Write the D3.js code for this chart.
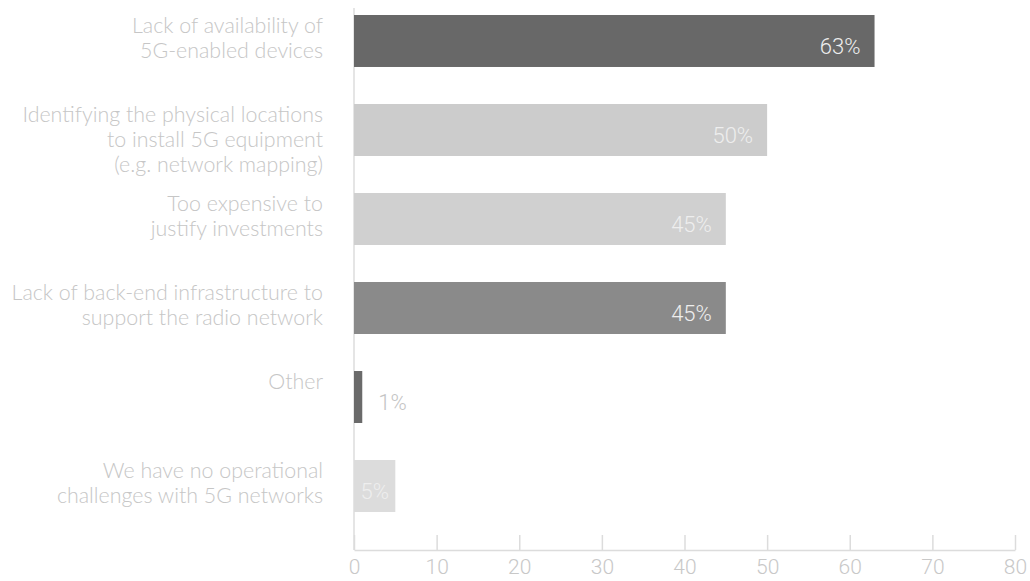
<!DOCTYPE html>
<html>
<head>
<meta charset="utf-8">
<script src="https://cdn.jsdelivr.net/npm/d3@7"></script>
<style>
  body { margin: 0; background: #fff; }
  svg { display: block; }
  .cat { font-family: Lato, "Open Sans", sans-serif; font-weight: 300; font-size: 21.4px; fill: #c6c6c6; }
  .val { font-family: Roboto, sans-serif; font-weight: 300; font-size: 22px; }
  .x.axis text { font-family: Roboto, sans-serif; font-weight: 300; font-size: 21px; fill: #c8c8c8; }
  .x.axis path, .x.axis line { stroke: #dcdcdc; stroke-width: 1.5; }
</style>
</head>
<body>
<svg id="vis"></svg>
<script>
var categories = [
    ["Lack of availability of", "5G-enabled devices"],
    ["Identifying the physical locations", "to install 5G equipment", "(e.g. network mapping)"],
    ["Too expensive to", "justify investments"],
    ["Lack of back-end infrastructure to", "support the radio network"],
    ["Other"],
    ["We have no operational", "challenges with 5G networks"]
];
var values = [63, 50, 45, 45, 1, 5];
var xTicks = [0, 10, 20, 30, 40, 50, 60, 70, 80];
var barColors = ["#686868", "#cccccc", "#d0d0d0", "#8a8a8a", "#6a6a6a", "#dcdcdc"];

var width = 1030, height = 581;

var svg = d3.select("#vis")
    .attr("width", width)
    .attr("height", height);

var keys = d3.range(values.length);

var xScale = d3.scaleLinear()
    .domain([0, 80])
    .range([354, 1015]);

var yScale = d3.scaleBand()
    .domain(keys)
    .range([-23, 550])
    .paddingInner(0.416)
    .paddingOuter(0.427);

var color = d3.scaleOrdinal()
    .domain(keys)
    .range(barColors);

// vertical axis line
svg.append("line")
    .attr("x1", xScale(0))
    .attr("x2", xScale(0))
    .attr("y1", 8)
    .attr("y2", 550)
    .style("stroke", "#dcdcdc")
    .style("stroke-width", 1.5);

var xAxis = d3.axisBottom(xScale)
    .tickValues(xTicks)
    .tickSizeInner(-15)
    .tickSizeOuter(0)
    .tickPadding(9);

svg.append("g")
    .attr("class", "x axis")
    .attr("transform", "translate(0,550)")
    .call(xAxis);

svg.selectAll(".bar")
    .data(keys)
    .enter().append("rect")
    .attr("class", "bar")
    .attr("x", xScale(0))
    .attr("y", function (d) { return yScale(d); })
    .attr("width", function (d) { return xScale(values[d]) - xScale(0); })
    .attr("height", yScale.bandwidth())
    .style("fill", function (d) { return color(d); });

// category labels, top aligned with the bars
var cat = svg.selectAll(".cat")
    .data(keys)
    .enter().append("text")
    .attr("class", "cat")
    .attr("text-anchor", "end")
    .attr("y", function (d) { return yScale(d) + 18; });

cat.selectAll("tspan")
    .data(function (d) { return categories[d]; })
    .enter().append("tspan")
    .attr("x", 323)
    .attr("dy", function (d, i) { return i === 0 ? 0 : 25; })
    .text(function (d) { return d; });

// value labels
svg.selectAll(".val")
    .data(keys)
    .enter().append("text")
    .attr("class", "val")
    .attr("y", function (d) { return yScale(d) + 39; })
    .attr("x", function (d) {
        var v = values[d];
        if (v < 3) return xScale(v) + 16;
        if (v < 10) return (xScale(0) + xScale(v)) / 2;
        return xScale(v) - 14;
    })
    .attr("text-anchor", function (d) {
        var v = values[d];
        if (v < 3) return "start";
        if (v < 10) return "middle";
        return "end";
    })
    .style("fill", function (d) { return values[d] < 3 ? "#c4c4c4" : "#eeeeee"; })
    .text(function (d) { return values[d] + "%"; });
</script>
</body>
</html>
